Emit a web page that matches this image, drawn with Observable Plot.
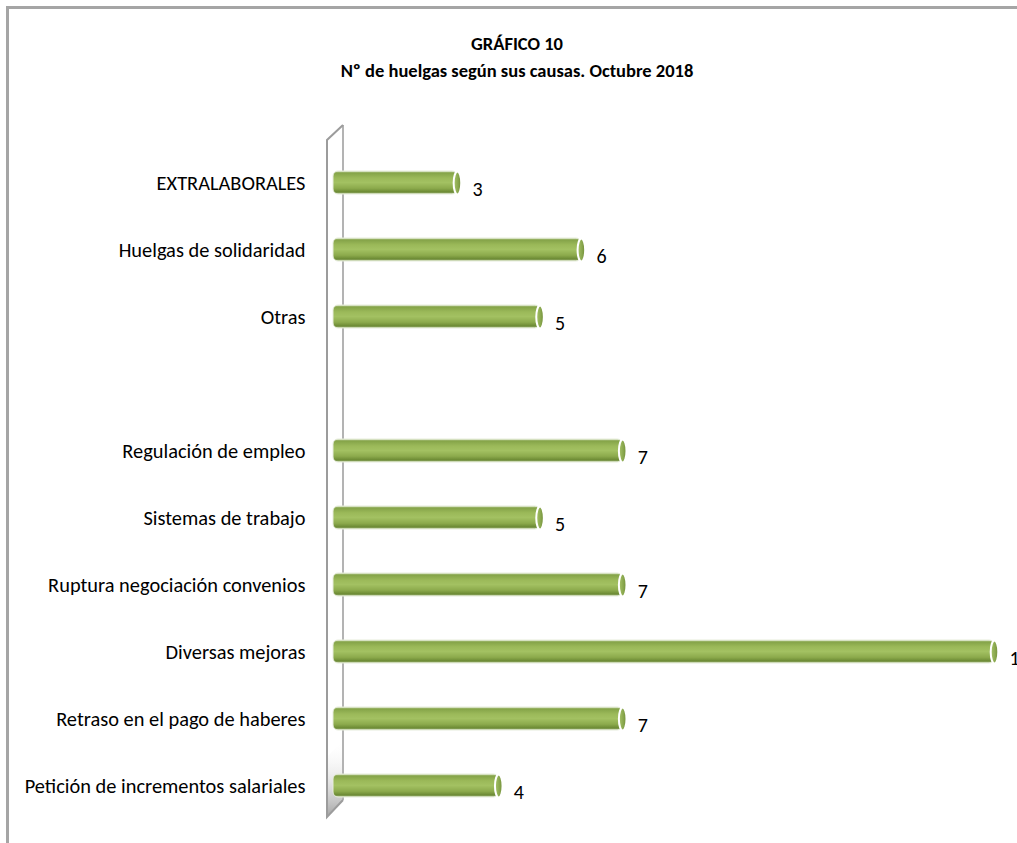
<!DOCTYPE html>
<html>
<head>
<meta charset="utf-8">
<script src="https://cdn.jsdelivr.net/npm/d3@7"></script>
<script src="https://cdn.jsdelivr.net/npm/@observablehq/plot@0.6"></script>
<style>
  html, body { margin: 0; padding: 0; background: #fff; overflow: hidden; }
  body { width: 1017px; height: 843px; position: relative; font-family: Carlito, Calibri, "Liberation Sans", sans-serif; }
  #frame { position: absolute; left: 6px; top: 6px; width: 1100px; height: 900px; border-top: 3px solid #a5a5a5; border-left: 3px solid #a5a5a5; box-sizing: border-box; }
  #title { position: relative; height: 100px; text-align: center; font-weight: bold; font-size: 18.5px; color: #000; box-sizing: border-box; }
  #title .t1 { position: absolute; left: 17px; right: 0; top: 32px; }
  #title .t2 { position: absolute; left: 17px; right: 0; top: 59px; }
  #chart { position: relative; }
</style>
</head>
<body>
<div id="frame"></div>
<div id="title"><div class="t1">GRÁFICO 10</div><div class="t2">Nº de huelgas según sus causas. Octubre 2018</div></div>
<div id="chart"></div>
<script>
const categories = [
  "EXTRALABORALES",
  "Huelgas de solidaridad",
  "Otras",
  " ",
  "Regulación de empleo",
  "Sistemas de trabajo",
  "Ruptura negociación convenios",
  "Diversas mejoras",
  "Retraso en el pago de haberes",
  "Petición de incrementos salariales"
];
const values = [3, 6, 5, null, 7, 5, 7, 16, 7, 4];

const data = categories.map((c, i) => ({cat: c, value: values[i]})).filter(d => d.value != null);

const ellipse = {
  draw(ctx, size) {
    const ry = Math.sqrt(size / Math.PI);
    const rx = ry * 0.33;
    const k = 0.5523;
    ctx.moveTo(rx, 0);
    ctx.bezierCurveTo(rx, k * ry, k * rx, ry, 0, ry);
    ctx.bezierCurveTo(-k * rx, ry, -rx, k * ry, -rx, 0);
    ctx.bezierCurveTo(-rx, -k * ry, -k * rx, -ry, 0, -ry);
    ctx.bezierCurveTo(k * rx, -ry, rx, -k * ry, rx, 0);
    ctx.closePath();
  }
};

// 3D wall drawn from the x scale origin and the frame dimensions
function wall(index, scales, values, dims) {
  const x0 = scales.x(0);
  const top = dims.marginTop;
  const bottom = dims.height - dims.marginBottom;
  const g = d3.create("svg:g");
  const defs = g.append("defs");
  const lg = defs.append("linearGradient").attr("id", "wallShade").attr("x1", 0).attr("y1", 0).attr("x2", 0).attr("y2", 1);
  lg.append("stop").attr("offset", "0%").attr("stop-color", "#ffffff").attr("stop-opacity", 0);
  lg.append("stop").attr("offset", "100%").attr("stop-color", "#9a9a9a").attr("stop-opacity", 0.9);
  const bg = defs.append("linearGradient").attr("id", "barGrad").attr("x1", 0).attr("y1", 0).attr("x2", 0).attr("y2", 1);
  [["0%", "#dfe9cc"], ["8%", "#84a348"], ["30%", "#9bb959"], ["50%", "#a3c162"], ["75%", "#8caa4c"], ["92%", "#6a8833"], ["100%", "#cfdcb8"]]
    .forEach(([o, c]) => bg.append("stop").attr("offset", o).attr("stop-color", c));
  const cg = defs.append("linearGradient").attr("id", "capGrad").attr("x1", 0).attr("y1", 0).attr("x2", 1).attr("y2", 0);
  [["0%", "#a8c46a"], ["60%", "#88a64c"], ["100%", "#6f8c38"]]
    .forEach(([o, c]) => cg.append("stop").attr("offset", o).attr("stop-color", c));
  const fx = x0 - 6, bx = x0 + 10, dy = 15, dyb = 17;
  g.append("path")
    .attr("d", `M${fx},${bottom - 60}L${bx},${bottom - 60 - dyb}L${bx},${bottom - dyb}L${fx},${bottom}Z`)
    .attr("fill", "url(#wallShade)");
  g.append("path")
    .attr("d", `M${bx},${top}L${bx},${bottom - dyb}`)
    .attr("fill", "none").attr("stroke", "#b3b3b3").attr("stroke-width", 2);
  g.append("path")
    .attr("d", `M${bx},${bottom - dyb}L${fx},${bottom}L${fx},${top + dy}L${bx},${top}`)
    .attr("fill", "none").attr("stroke", "#9c9c9c").attr("stroke-width", 2);
  return g.node();
}

const chart = Plot.plot({
  width: 1017,
  height: 743,
  marginLeft: 333,
  marginRight: 23,
  marginTop: 25,
  marginBottom: 26,
  style: {fontFamily: 'Carlito, Calibri, "Liberation Sans", sans-serif', fontSize: "20.4px", color: "#000", overflow: "visible"},
  x: {domain: [0, 16], axis: null},
  y: {domain: categories, range: [47.3, 720.7], paddingInner: 0.66, paddingOuter: 0.33, label: null, tickSize: 0, tickPadding: 28},
  marks: [
    wall,
    Plot.barX(data, {y: "cat", x: "value", fill: "url(#barGrad)", stroke: "#e6ecdb", strokeWidth: 1, rx: 5}),
    Plot.dot(data, {y: "cat", x: "value", symbol: ellipse, r: 11.5, fill: "url(#capGrad)", stroke: "#ffffff", strokeWidth: 2}),
    Plot.text(data, {y: "cat", x: "value", text: d => String(d.value), textAnchor: "start", dx: 15, dy: 7, fontSize: 20, fill: "#000"})
  ]
});
document.getElementById("chart").appendChild(chart);
</script>
</body>
</html>
